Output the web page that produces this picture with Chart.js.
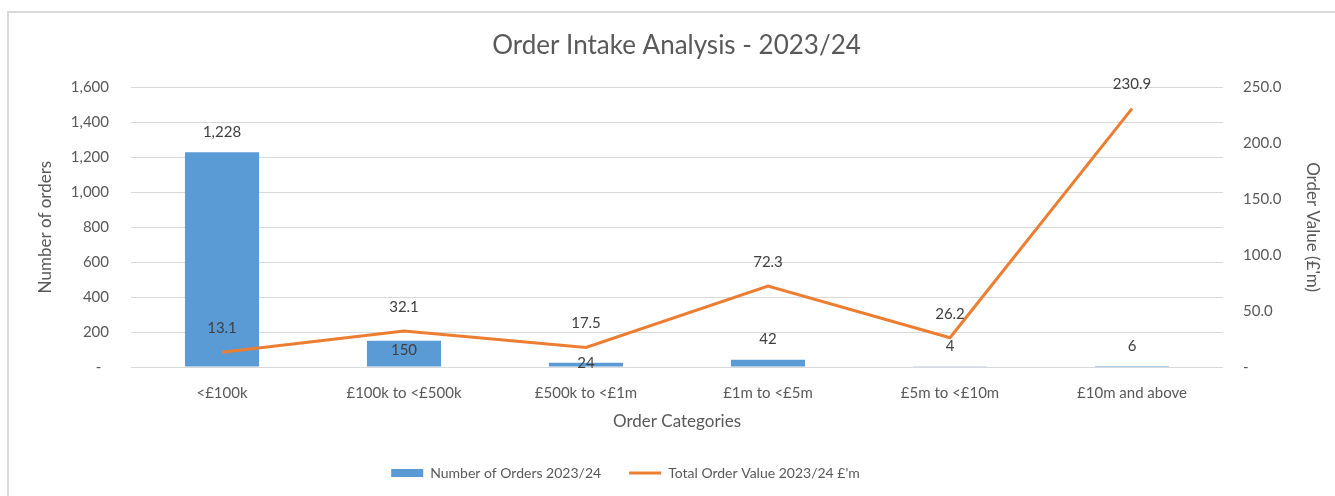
<!DOCTYPE html>
<html>
<head>
<meta charset="utf-8">
<script src="https://cdn.jsdelivr.net/npm/chart.js@4"></script>
<style>
  html, body { margin: 0; padding: 0; background: #fff; }
  #frame { position: absolute; left: 7px; top: 11px; width: 1400px; height: 600px;
           border: 2px solid #d9d9d9; box-sizing: border-box; }
  #wrap { position: absolute; left: 0; top: 0; width: 1335px; height: 496px; }
</style>
</head>
<body>
<div id="frame"></div>
<div id="wrap"><canvas id="chart"></canvas></div>
<script>
// 数据：从图上读取
var categories = ["<£100k", "£100k to <£500k", "£500k to <£1m", "£1m to <£5m", "£5m to <£10m", "£10m and above"];
var orderCounts = [1228, 150, 24, 42, 4, 6];
var orderValues = [13.1, 32.1, 17.5, 72.3, 26.2, 230.9];
var countTicks = [0, 200, 400, 600, 800, 1000, 1200, 1400, 1600];
var valueTicks = [0, 50, 100, 150, 200, 250];

var FONT = "Lato, 'Open Sans', sans-serif";
var GREY = "#595959";
var BLUE = "#5B9BD5";
var ORANGE = "#ED7D31";
Chart.defaults.font.family = FONT;
Chart.defaults.color = GREY;
Chart.defaults.animation = false;

// 数据标签：柱上方 / 折线点上方；个别柱标签按原图下移
var valueLabels = {
  id: "valueLabels",
  afterDatasetsDraw: function (chart, args, opts) {
    var ctx = chart.ctx;
    ctx.save();
    ctx.font = "15px " + FONT;
    ctx.fillStyle = "#404040";
    ctx.textAlign = "center";
    ctx.textBaseline = "middle";
    chart.data.datasets.forEach(function (ds, i) {
      var meta = chart.getDatasetMeta(i);
      meta.data.forEach(function (el, j) {
        var v = ds.data[j];
        var text = ds.type === "line" ? v.toFixed(1) : v.toLocaleString("en-US");
        var lift = ds.type === "line" ? opts.lineLift : opts.barLift;
        if (ds.type !== "line" && opts.barShift[j] != null) lift = opts.barShift[j];
        ctx.fillText(text, el.x, el.y - lift);
      });
    });
    ctx.restore();
  }
};

// 图例整体平移，对齐原图（Excel 图例不在画布正中）
var legendShift = {
  id: "legendShift",
  afterLayout: function (chart, args, opts) {
    var lg = chart.legend;
    if (!lg) return;
    lg.left += opts.dx;
    lg.right += opts.dx;
    lg.top += opts.dy;
    lg.bottom += opts.dy;
  }
};

new Chart(document.getElementById("chart"), {
  data: {
    labels: categories,
    datasets: [
      {
        type: "bar",
        label: "Number of Orders 2023/24",
        data: orderCounts,
        backgroundColor: BLUE,
        yAxisID: "y",
        categoryPercentage: 1,
        barPercentage: 0.407,
        order: 2
      },
      {
        type: "line",
        label: "Total Order Value 2023/24 £'m",
        data: orderValues,
        borderColor: ORANGE,
        backgroundColor: ORANGE,
        borderWidth: 3,
        pointRadius: 0,
        tension: 0,
        yAxisID: "y2",
        order: 1
      }
    ]
  },
  options: {
    responsive: true,
    maintainAspectRatio: false,
    layout: { padding: { top: 30, left: 30, right: 12, bottom: 4 } },
    plugins: {
      title: {
        display: true,
        text: "Order Intake Analysis - 2023/24",
        color: GREY,
        font: { size: 26, weight: "normal" },
        padding: { top: 0, bottom: 26 }
      },
      legend: {
        position: "bottom",
        labels: {
          color: GREY,
          font: { size: 14 },
          boxWidth: 32,
          boxHeight: 8,
          padding: 28,
          generateLabels: function (chart) {
            return chart.data.datasets.map(function (ds, i) {
              var isLine = ds.type === "line";
              return {
                text: ds.label,
                datasetIndex: i,
                fillStyle: isLine ? ORANGE : BLUE,
                strokeStyle: isLine ? ORANGE : BLUE,
                lineWidth: isLine ? 3 : 0,
                fontColor: GREY,
                pointStyle: isLine ? "line" : "rect",
                hidden: false
              };
            });
          },
          usePointStyle: true,
          pointStyleWidth: 32
        }
      },
      tooltip: { enabled: false },
      valueLabels: { lineLift: 24, barLift: 20, barShift: { 1: -9, 2: 0 } },
      legendShift: { dx: -51, dy: -2 }
    },
    scales: {
      x: {
        grid: { display: false },
        border: { display: false },
        ticks: { color: GREY, font: { size: 15 }, padding: 9, maxRotation: 0 },
        title: { display: true, text: "Order Categories", color: GREY, font: { size: 17 }, padding: { top: 6, bottom: 8 } },
        afterFit: function (s) { s.height = 73; }
      },
      y: {
        position: "left",
        min: 0,
        max: 1600,
        afterBuildTicks: function (s) { s.ticks = countTicks.map(function (v) { return { value: v }; }); },
        ticks: {
          color: GREY,
          font: { size: 15 },
          padding: 22,
          callback: function (v) { return v === 0 ? "-  " : v.toLocaleString("en-US"); }
        },
        grid: { color: "#d9d9d9", lineWidth: 1, drawTicks: false },
        border: { display: false },
        title: { display: true, text: "Number of orders", color: GREY, font: { size: 17 }, padding: { top: 5, bottom: 0 } },
        afterFit: function (s) { s.width = 101; }
      },
      y2: {
        position: "right",
        min: 0,
        max: 250,
        afterBuildTicks: function (s) { s.ticks = valueTicks.map(function (v) { return { value: v }; }); },
        ticks: {
          color: GREY,
          font: { size: 15 },
          padding: 20,
          callback: function (v) { return v === 0 ? "-" : v.toFixed(1); }
        },
        grid: { display: false, drawTicks: false },
        border: { display: false },
        title: { display: true, text: "Order Value (£'m)", color: GREY, font: { size: 17 }, padding: { top: 0, bottom: 0 } },
        afterFit: function (s) { s.width = 100; }
      }
    }
  },
  plugins: [valueLabels, legendShift]
});
</script>
</body>
</html>
